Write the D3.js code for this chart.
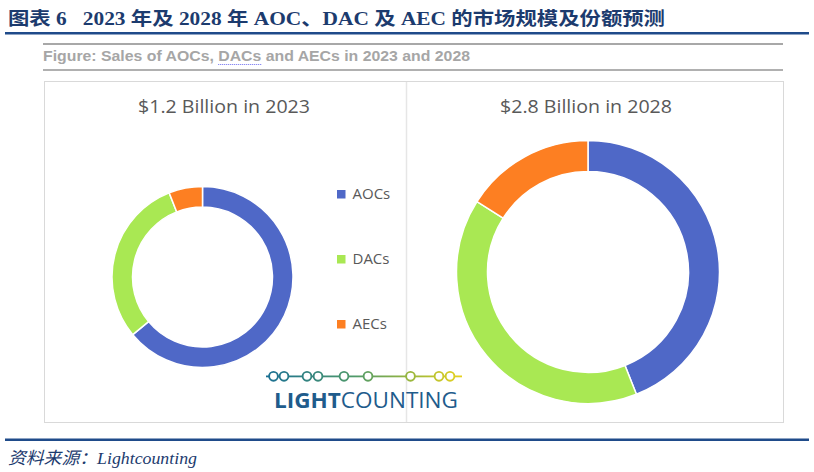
<!DOCTYPE html>
<html><head><meta charset="utf-8">
<script src="https://cdn.jsdelivr.net/npm/d3@7"></script>
<style>body{margin:0;background:#fff}svg{display:block}text{white-space:pre}</style>
</head><body>
<script>
const categories = ["AOCs", "DACs", "AECs"];
const colors = ["#4f68c7", "#a9e853", "#fd7f22"];
const values2023 = [64, 30, 6];
const values2028 = [44, 40, 16];
const chartTitles = ["$1.2 Billion in 2023", "$2.8 Billion in 2028"];
const headTitle = "图表 6   2023 年及 2028 年 AOC、DAC 及 AEC 的市场规模及份额预测";
const caption = "Figure: Sales of AOCs, DACs and AECs in 2023 and 2028";
const source = "资料来源：Lightcounting";

const W = 814, H = 472;
const svg = d3.select("body").append("svg").attr("width", W).attr("height", H);

// header
svg.append("text").attr("x", 8).attr("y", 25).attr("xml:space", "preserve")
  .style("font-family", "'Liberation Serif','Noto Sans CJK SC',serif")
  .style("font-weight", "bold").style("font-size", "18.5px").attr("fill", "#1c3b6e")
  .attr("textLength", 657).attr("lengthAdjust", "spacingAndGlyphs")
  .text(headTitle);
svg.append("rect").attr("x", 5).attr("y", 32).attr("width", 804).attr("height", 2.5).attr("fill", "#1f4b8a");

// caption box lines
svg.append("rect").attr("x", 43).attr("y", 43).attr("width", 740).attr("height", 2).attr("fill", "#a8a8a8");
svg.append("rect").attr("x", 43).attr("y", 69).attr("width", 740).attr("height", 2).attr("fill", "#b0b0b0");
const cap = svg.append("text").attr("x", 43).attr("y", 61)
  .style("font-family", "'Liberation Sans',Arial,sans-serif").style("font-weight", "bold")
  .style("font-size", "15px").attr("fill", "#a6a6a6")
  .attr("textLength", 427).attr("lengthAdjust", "spacingAndGlyphs").text(caption);
// spellcheck dotted underline under "DACs"
{
  const node = cap.node();
  const idx = caption.indexOf("DACs");
  const s = node.getStartPositionOfChar(idx).x;
  const e = node.getEndPositionOfChar(idx + 3).x;
  svg.append("line").attr("x1", s).attr("x2", e).attr("y1", 64.5).attr("y2", 64.5)
    .attr("stroke", "#6b6bf0").attr("stroke-width", 1).attr("stroke-dasharray", "1,1");
}

// chart box
svg.append("rect").attr("x", 44.5).attr("y", 81.5).attr("width", 739).attr("height", 341)
  .attr("fill", "#fff").attr("stroke", "#d9d9d9").attr("stroke-width", 1);
svg.append("line").attr("x1", 406.5).attr("x2", 406.5).attr("y1", 82).attr("y2", 422)
  .attr("stroke", "#e6e6e6").attr("stroke-width", 1.5);

const pie = d3.pie().sort(null).value(d => d);
function donut(vals, cx, cy, rOut, rIn) {
  const arc = d3.arc().innerRadius(rIn).outerRadius(rOut);
  const g = svg.append("g").attr("transform", `translate(${cx},${cy})`);
  g.selectAll("path").data(pie(vals)).join("path")
    .attr("d", arc).attr("fill", (d, i) => colors[i])
    .attr("stroke", "#fff").attr("stroke-width", 1.5);
}
donut(values2023, 202.5, 277, 90.5, 70);
donut(values2028, 588, 272, 131.5, 100.5);

const titleFont = "'Open Sans','Noto Sans',sans-serif";
[[224, chartTitles[0]], [586, chartTitles[1]]].forEach(([x, t]) => {
  svg.append("text").attr("x", x).attr("y", 113).attr("text-anchor", "middle")
    .style("font-family", titleFont).style("font-size", "17.5px").attr("fill", "#595959")
    .attr("textLength", 172).attr("lengthAdjust", "spacingAndGlyphs").text(t);
});

// legend
const ly = d3.scalePoint().domain(categories).range([199, 329]);
const lg = svg.append("g");
categories.forEach((c, i) => {
  lg.append("rect").attr("x", 337).attr("y", ly(c) - 9).attr("width", 8.5).attr("height", 8.5).attr("fill", colors[i]);
  lg.append("text").attr("x", 352.5).attr("y", ly(c))
    .style("font-family", titleFont).style("font-size", "15px").attr("fill", "#595959").text(c);
});

// logo
const defs = svg.append("defs");
const grad = defs.append("linearGradient").attr("id", "lg").attr("gradientUnits", "userSpaceOnUse")
  .attr("x1", 266).attr("x2", 462).attr("y1", 0).attr("y2", 0);
grad.append("stop").attr("offset", "0%").attr("stop-color", "#1a6f93");
grad.append("stop").attr("offset", "45%").attr("stop-color", "#4f9a6a");
grad.append("stop").attr("offset", "75%").attr("stop-color", "#9db83c");
grad.append("stop").attr("offset", "100%").attr("stop-color", "#e8d21e");
const logo = svg.append("g");
logo.append("rect").attr("x", 266).attr("y", 375.5).attr("width", 196).attr("height", 1.8).attr("fill", "url(#lg)");
const dots = [273.5, 284, 307, 318, 344, 368, 410.5, 439, 450];
logo.selectAll("circle").data(dots).join("circle")
  .attr("cx", d => d).attr("cy", 376.3).attr("r", 4.4)
  .attr("fill", "#fff").attr("stroke", "url(#lg)").attr("stroke-width", 1.9);
const lt = logo.append("text").attr("x", 274).attr("y", 407.5)
  .style("font-family", "'Liberation Sans Narrow','Open Sans','Noto Sans',sans-serif").style("font-size", "22px").attr("fill", "#1f5c8c")
  .attr("textLength", 184).attr("lengthAdjust", "spacingAndGlyphs");
lt.append("tspan").style("font-weight", "bold").text("LIGHT");
lt.append("tspan").text("COUNTING");

// footer
svg.append("rect").attr("x", 5).attr("y", 438.5).attr("width", 804).attr("height", 2.5).attr("fill", "#1f4b8a");
svg.append("text").attr("x", 8).attr("y", 464)
  .style("font-family", "'Liberation Serif','Noto Sans CJK SC',serif").style("font-style", "italic")
  .style("font-size", "17px").attr("fill", "#1c3b6e")
  .attr("textLength", 189).attr("lengthAdjust", "spacingAndGlyphs").text(source);
</script>
</body></html>
